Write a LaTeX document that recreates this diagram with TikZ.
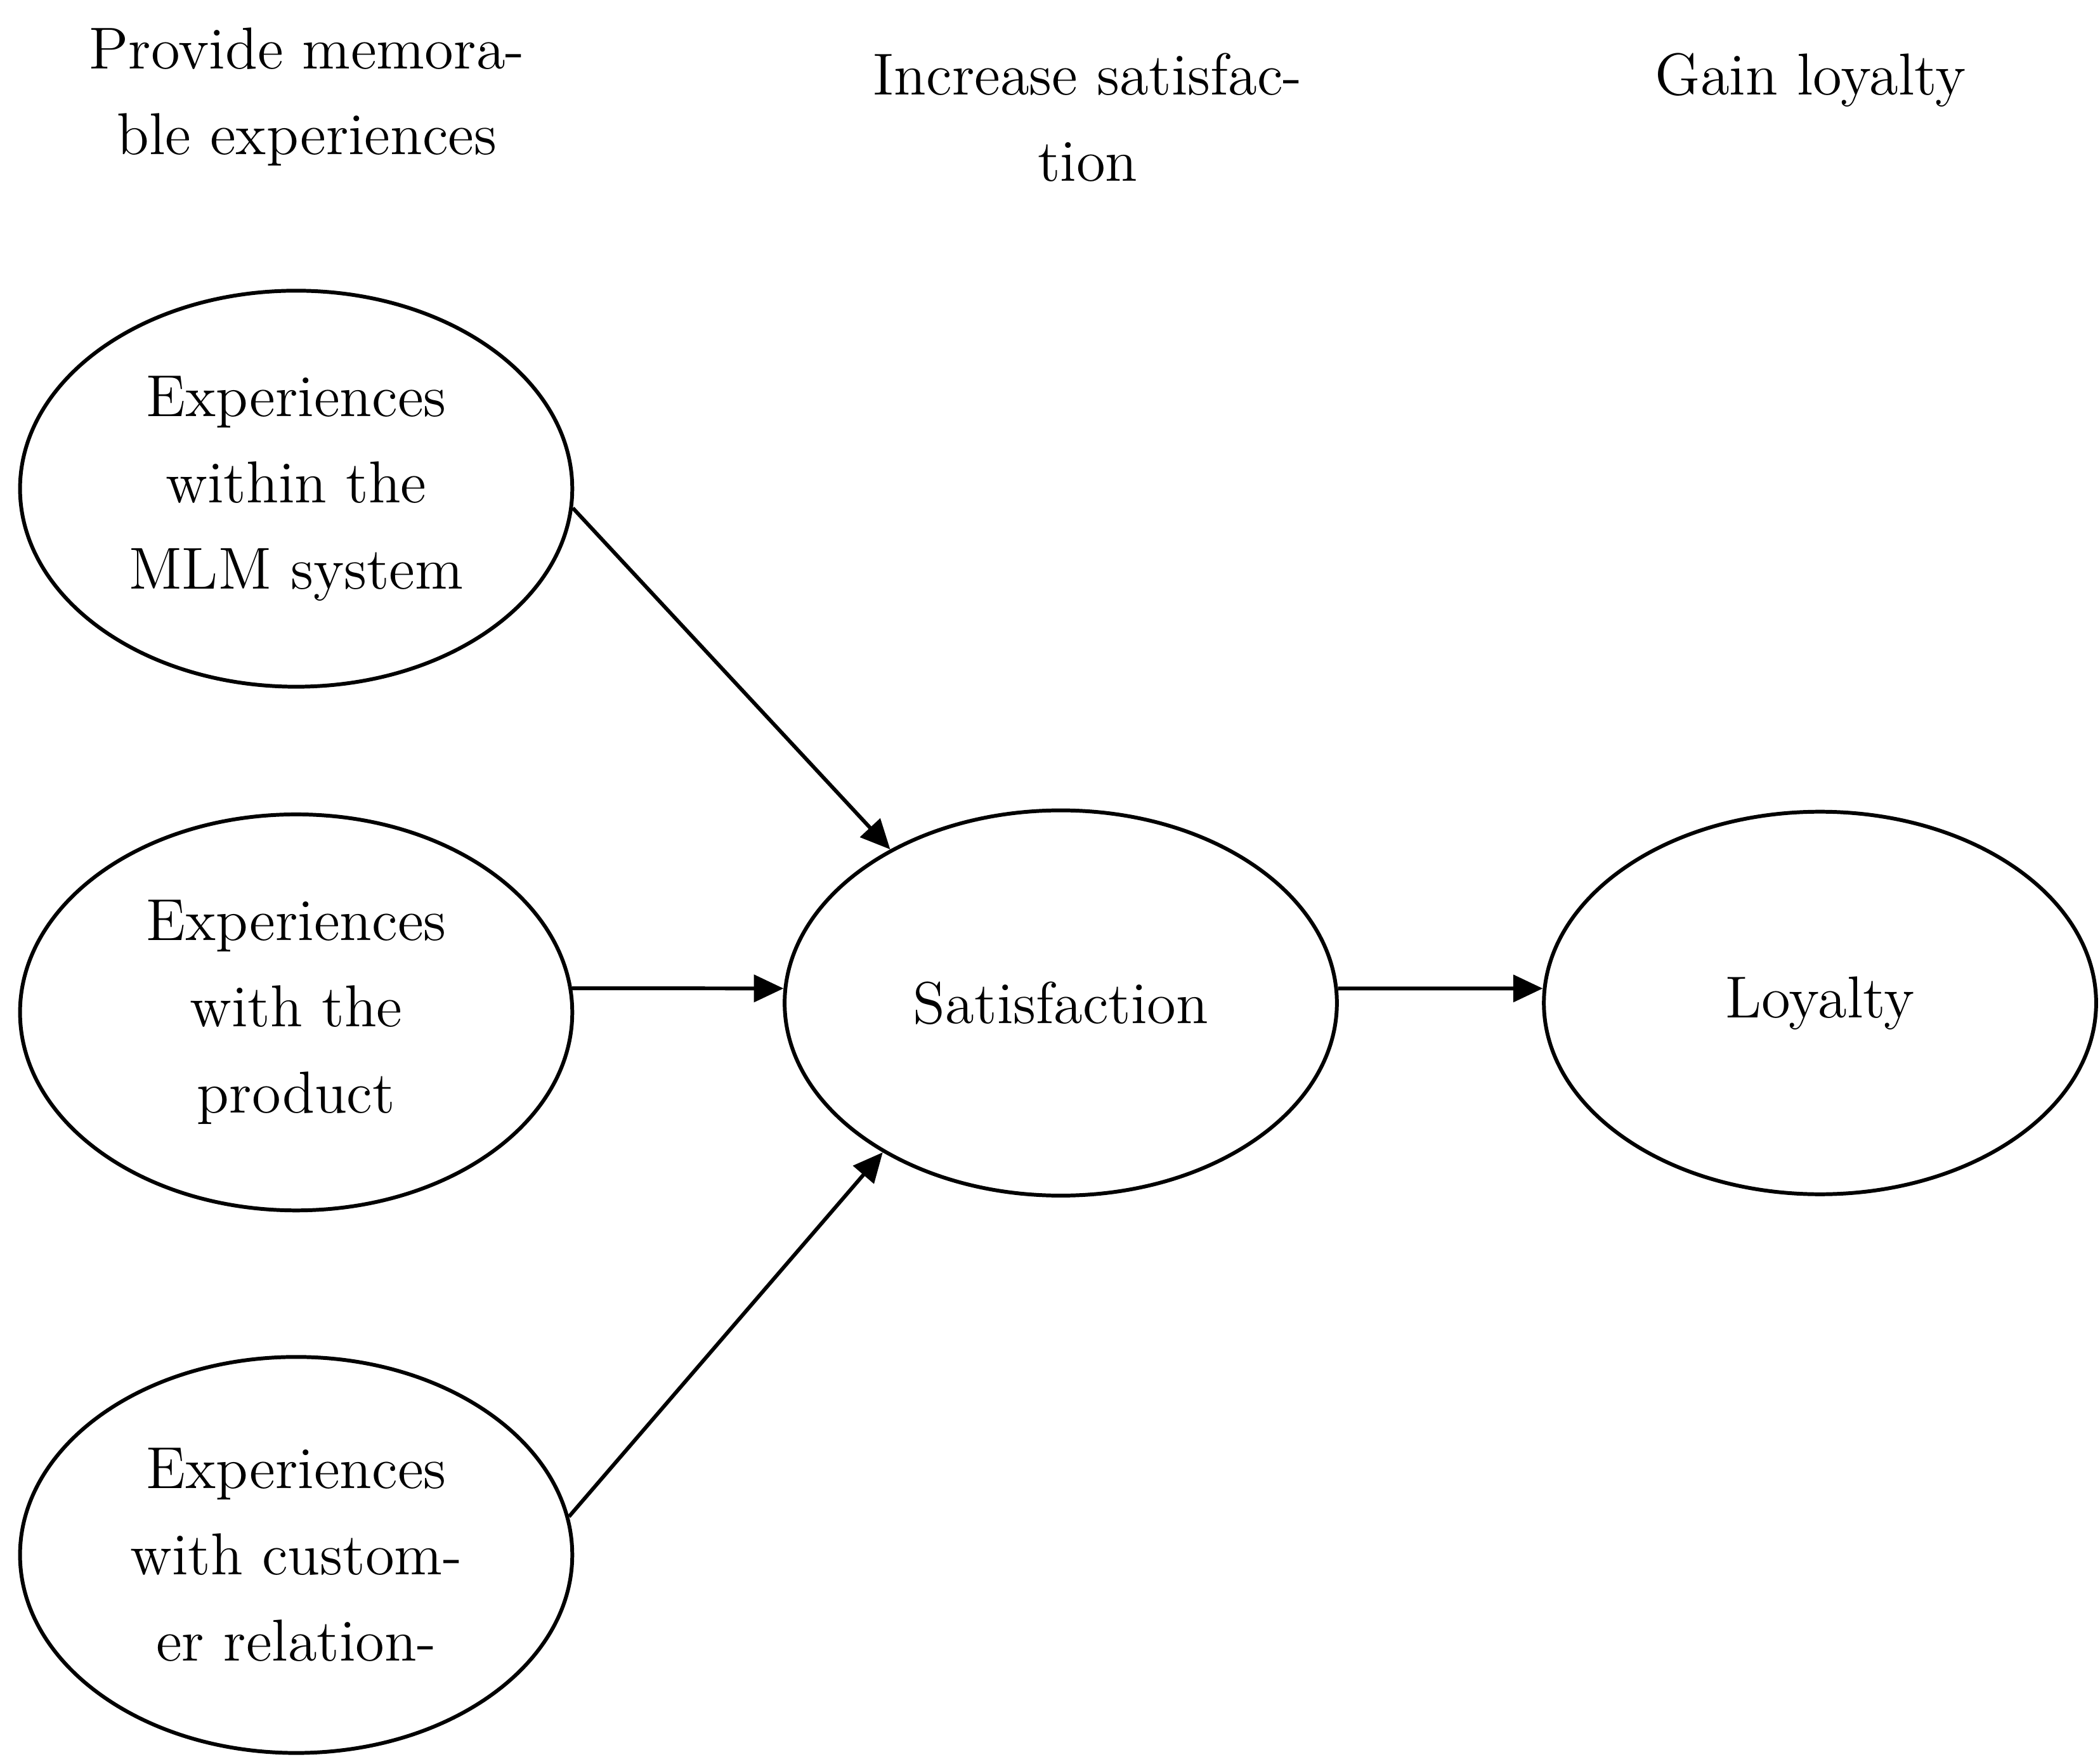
\documentclass[tikz,border=0pt]{standalone}
\usetikzlibrary{arrows.meta,shapes.geometric}
\begin{document}
\begin{tikzpicture}[x=0.01cm,y=-0.01cm,
  ell/.style={ellipse,draw,line width=0.8pt,minimum width=4.1cm,minimum height=2.94cm,inner sep=0pt,align=center,font=\fontsize{12.5}{18.2}\selectfont},
  hdr/.style={align=center,font=\fontsize{12.5}{18.2}\selectfont,anchor=north},
  arr/.style={line width=0.8pt,-{Triangle[length=2.2mm,width=2mm]}}]
\useasboundingbox (0,0) rectangle (1560,1305);
\node[ell] (e1) at (220,363) {Experiences\\within the\\MLM system};
\node[ell] (e2) at (220,752) {Experiences\\with the\\product};
\node[ell] (e3) at (220,1155) {Experiences\\with custom-\\er relation-};
\node[ell,minimum height=2.86cm] (sat) at (788,745) {Satisfaction};
\node[ell,minimum height=2.84cm] (loy) at (1352,745) {Loyalty};
\node[hdr] (h1) at (228,8) {Provide memora-\\ble experiences};
\node[hdr] (h2) at (808,27) {Increase satisfac-\\tion};
\node[hdr] (h3) at (1345,27) {Gain loyalty};
\draw[arr] (e1.-4) -- (sat.138);
\draw[arr] (e2.5) -- (sat.177);
\draw[arr] (e3.8) -- (sat.220);
\draw[arr] (sat.3) -- (loy.177);
\end{tikzpicture}
\end{document}
